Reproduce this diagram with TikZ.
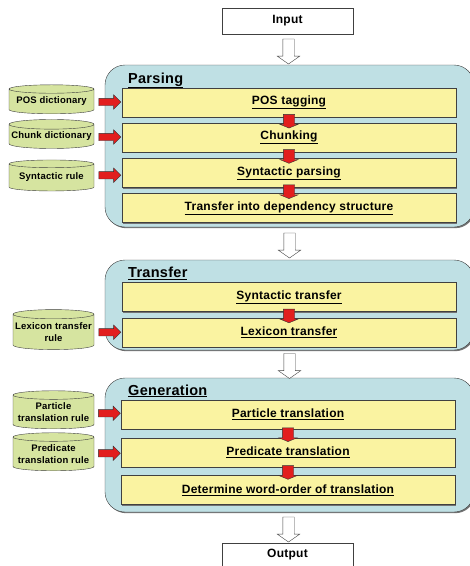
\documentclass[tikz,border=0pt]{standalone}
\usepackage{fontspec}
\setmainfont{Liberation Sans}[LetterSpace=2]
\usetikzlibrary{shapes.geometric,shapes.arrows,shadows,calc}

\definecolor{panelblue}{RGB}{191,224,228}
\definecolor{stepyellow}{RGB}{250,243,161}
\definecolor{dbgreen}{RGB}{214,228,160}
\definecolor{arrowred}{RGB}{226,30,30}

\begin{document}
\begin{tikzpicture}[
    x=1pt, y=-1pt,
    shade/.style={drop shadow={shadow xshift=1.2pt, shadow yshift=-1.2pt, fill=black!55, opacity=1}},
    panel/.style={
        rectangle, draw=black!75, fill=panelblue, rounded corners=20pt,
        minimum width=369pt, inner sep=0pt, shade
    },
    stage/.style={anchor=base west, inner sep=0pt, font=\fontsize{14.5}{16}\selectfont\bfseries},
    stepbox/.style={
        rectangle, draw=black!75, fill=stepyellow, minimum width=334pt,
        minimum height=29pt, inner sep=0pt, font=\fontsize{12}{14}\selectfont\bfseries, shade
    },
    iobox/.style={
        rectangle, draw=black!75, fill=white, minimum width=131pt,
        minimum height=26pt, inner sep=0pt, font=\fontsize{12}{14}\selectfont\bfseries
    },
    dbase/.style={
        cylinder, shape border rotate=90, aspect=0.12, draw=black!75, fill=dbgreen,
        minimum width=85pt, minimum height=29pt, inner sep=0pt, align=center,
        font=\fontsize{9.5}{11.5}\selectfont\bfseries
    },
    flow/.style={
        single arrow, draw=black!75, fill=white, shape border rotate=270,
        minimum height=25pt, inner sep=5.5pt, single arrow head extend=5.5pt,
        single arrow tip angle=110
    },
    feed/.style={
        single arrow, draw=black!80, fill=arrowred, minimum height=22pt,
        inner sep=3.5pt, single arrow head extend=3.5pt, single arrow tip angle=90
    },
    next/.style={
        single arrow, draw=black!80, fill=arrowred, shape border rotate=270,
        minimum height=12pt, inner sep=5.5pt, single arrow head extend=3.5pt,
        single arrow tip angle=135
    }
]
\useasboundingbox (0,0) rectangle (470,566);
\clip (0,0) rectangle (470,566);

% --- Input / Output ---
\node[iobox] (input) at (287.5,21) {Input};
\node[iobox, minimum height=24pt] (output) at (287.5,555) {Output};

% --- Parsing ---
\node[panel, minimum height=162pt] (parsing) at (289.5,146) {};
\node[stage] (parsingtitle) at (128,83) {\underline{Parsing}};
\node[stepbox] (postag) at (289,102.5) {\underline{POS tagging}};
\node[stepbox] (chunk) at (289,137.5) {\underline{Chunking}};
\node[stepbox] (synparse) at (289,173) {\underline{Syntactic parsing}};
\node[stepbox] (depstruct) at (289,208) {\underline{Transfer into dependency structure}};

\node[dbase] (posdict) at (51.5,101.5) {POS dictionary};
\node[dbase] (chunkdict) at (51.5,136.5) {Chunk dictionary};
\node[dbase, minimum height=31pt] (synrule) at (51.5,177.5) {Syntactic rule};

% --- Transfer ---
\node[panel, minimum height=90pt] (transfer) at (289.5,305) {};
\node[stage] (transfertitle) at (128,277.5) {\underline{Transfer}};
\node[stepbox] (syntrans) at (289,297) {\underline{Syntactic transfer}};
\node[stepbox] (lextrans) at (289,332.5) {\underline{Lexicon transfer}};

\node[dbase, minimum width=81pt, minimum height=40pt] (lexrule) at (53.5,332) {Lexicon transfer\\rule};

% --- Generation ---
\node[panel, minimum height=134pt] (generation) at (289.5,445) {};
\node[stage] (generationtitle) at (128,395) {\underline{Generation}};
\node[stepbox] (partrans) at (288,414.5) {\underline{Particle translation}};
\node[stepbox] (predtrans) at (288,452.5) {\underline{Predicate translation}};
\node[stepbox] (wordorder) at (288,490) {\underline{Determine word-order of translation}};

\node[dbase, minimum width=81pt, minimum height=38pt] (partrule) at (53.5,412) {Particle\\translation rule};
\node[dbase, minimum width=81pt, minimum height=38pt] (predrule) at (53.5,454) {Predicate\\translation rule};

% --- Flow between stages ---
\node[flow] (f1) at ($(input.south)!0.5!(parsing.north)$) {};
\node[flow] (f2) at ($(parsing.south)!0.5!(transfer.north)$) {};
\node[flow] (f3) at ($(transfer.south)!0.5!(generation.north)$) {};
\node[flow] (f4) at ($(generation.south)!0.5!(output.north)$) {};

% --- Steps inside stages ---
\node[next] (n1) at ($(postag.south)!0.5!(chunk.north)$) {};
\node[next] (n2) at ($(chunk.south)!0.5!(synparse.north)$) {};
\node[next] (n3) at ($(synparse.south)!0.5!(depstruct.north)$) {};
\node[next] (n4) at ($(syntrans.south)!0.5!(lextrans.north)$) {};
\node[next] (n5) at ($(partrans.south)!0.5!(predtrans.north)$) {};
\node[next] (n6) at ($(predtrans.south)!0.5!(wordorder.north)$) {};

% --- Resources feeding the steps ---
\node[feed] (d1) at ($(posdict.east)!0.5!(postag.west)$ |- postag) {};
\node[feed] (d2) at ($(chunkdict.east)!0.5!(chunk.west)$ |- chunk) {};
\node[feed] (d3) at ($(synrule.east)!0.5!(synparse.west)$ |- synparse) {};
\node[feed] (d4) at ($(lexrule.east)!0.5!(lextrans.west)$ |- lextrans) {};
\node[feed] (d5) at ($(partrule.east)!0.5!(partrans.west)$ |- partrans) {};
\node[feed] (d6) at ($(predrule.east)!0.5!(predtrans.west)$ |- predtrans) {};

\end{tikzpicture}
\end{document}
